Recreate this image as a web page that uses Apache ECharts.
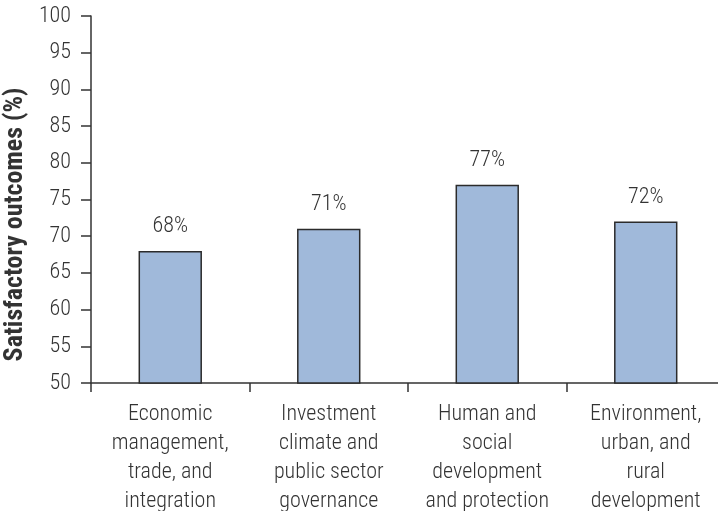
<!DOCTYPE html>
<html>
<head>
<meta charset="utf-8">
<script src="https://cdn.jsdelivr.net/npm/echarts@6/dist/echarts.min.js"></script>
<style>
  html, body { margin: 0; padding: 0; background: #fff; }
  #chart { width: 718px; height: 511px; }
</style>
</head>
<body>
<div id="chart"></div>
<script>
// Sector categories and share of satisfactory outcomes (%)
const categories = [
  'Economic\nmanagement,\ntrade, and\nintegration',
  'Investment\nclimate and\npublic sector\ngovernance',
  'Human and\nsocial\ndevelopment\nand protection',
  'Environment,\nurban, and\nrural\ndevelopment'
];
const outcomes = [68, 71, 77, 72];
const yTicks = { min: 50, max: 100, step: 5 };

const FONT = "'Roboto Condensed', 'DejaVu Sans Condensed', 'Liberation Sans Narrow', sans-serif";
const TEXT = '#333333';

const chart = echarts.init(document.getElementById('chart'));
chart.setOption({
  animation: false,
  grid: { left: 91, right: -7, top: 16, bottom: 128, containLabel: false, outerBoundsMode: 'none' },
  xAxis: {
    type: 'category',
    data: categories,
    axisLine: { show: true, lineStyle: { color: '#333', width: 1.5 } },
    axisTick: { show: true, length: 9, lineStyle: { color: '#333', width: 1.5 } },
    axisLabel: {
      interval: 0, margin: 17, color: TEXT,
      fontFamily: FONT, fontSize: 22, fontWeight: 300, lineHeight: 29, align: 'center'
    }
  },
  yAxis: {
    type: 'value',
    min: yTicks.min, max: yTicks.max, interval: yTicks.step,
    name: 'Satisfactory outcomes (%)',
    nameLocation: 'middle',
    nameGap: 47,
    nameTextStyle: {
      fontFamily: FONT, fontSize: 26, fontWeight: 'bold', color: TEXT,
      padding: [0, 50, 0, 0]
    },
    axisLine: { show: true, lineStyle: { color: '#333', width: 1.5 } },
    axisTick: { show: true, length: 10, lineStyle: { color: '#333', width: 1.5 } },
    splitLine: { show: false },
    axisLabel: { margin: 20, color: TEXT, fontFamily: FONT, fontSize: 22, fontWeight: 300 }
  },
  series: [{
    type: 'bar',
    data: outcomes,
    barWidth: '40%',
    itemStyle: { color: '#a0b9da', borderColor: '#2b2b2b', borderWidth: 1.5 },
    label: {
      show: true, position: 'top', distance: 13,
      formatter: p => p.value + '%',
      color: TEXT, fontFamily: FONT, fontSize: 22, fontWeight: 300
    }
  }]
});
</script>
</body>
</html>
